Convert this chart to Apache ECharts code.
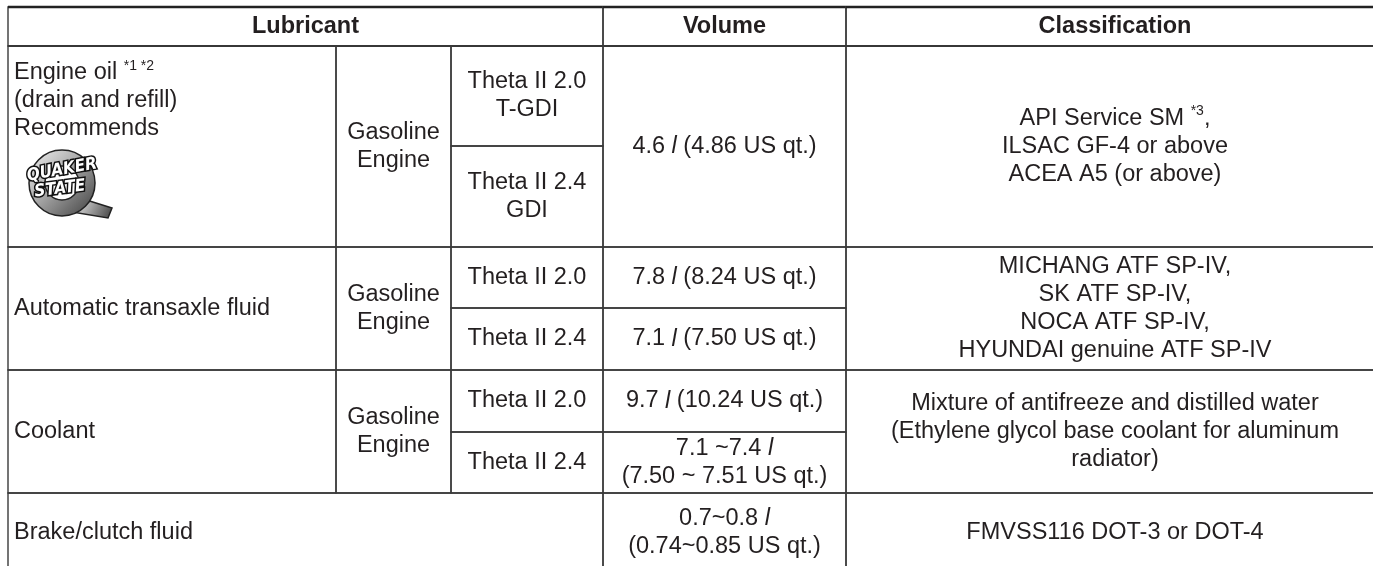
<!DOCTYPE html>
<html>
<head>
<meta charset="utf-8">
<script src="https://cdn.jsdelivr.net/npm/echarts@6/dist/echarts.min.js"></script>
<style>
html,body{margin:0;padding:0;background:#fff;}
#chart{width:1373px;height:566px;}
</style>
</head>
<body>
<div id="chart"></div>
<script>
// ---------- DATA (texts) ----------
const headers = ['Lubricant', 'Volume', 'Classification'];
const lubricants = [
  'Engine oil {sup|*1 *2}\n(drain and refill)\nRecommends',
  'Automatic transaxle fluid',
  'Coolant',
  'Brake/clutch fluid'
];
const engineTypes = ['Gasoline\nEngine', 'Gasoline\nEngine', 'Gasoline\nEngine'];
const engineModels = [
  'Theta II 2.0\nT-GDI', 'Theta II 2.4\nGDI',
  'Theta II 2.0', 'Theta II 2.4',
  'Theta II 2.0', 'Theta II 2.4'
];
const volumes = [
  '4.6 {it|l} (4.86 US qt.)',
  '7.8 {it|l} (8.24 US qt.)',
  '7.1 {it|l} (7.50 US qt.)',
  '9.7 {it|l} (10.24 US qt.)',
  '7.1 ~7.4 {it|l}\n(7.50 ~ 7.51 US qt.)',
  '0.7~0.8 {it|l}\n(0.74~0.85 US qt.)'
];
const classifications = [
  'API Service SM {sup|*3},\nILSAC GF-4 or above\nACEA A5 (or above)',
  'MICHANG ATF SP-IV,\nSK ATF SP-IV,\nNOCA ATF SP-IV,\nHYUNDAI genuine ATF SP-IV',
  'Mixture of antifreeze and distilled water\n(Ethylene glycol base coolant for aluminum\nradiator)',
  'FMVSS116 DOT-3 or DOT-4'
];

// ---------- LAYOUT (table grid in axis units) ----------
const colEdges = [8, 336, 451, 603, 846, 1384];
const rowEdges = [7, 46, 146, 247, 308, 370, 432, 493, 572];

// ---------- STYLE ----------
const FONT = "'Liberation Sans', Arial, Helvetica, sans-serif";
const FS = 23.5;
const LH = 28;
const TXT = '#231f20';
const LINE = '#3a3a3a';

// ---------- CELL TABLE built from the arrays ----------
// [c0, c1, r0, r1] spans by index
const cells = [];
function add(c0, c1, r0, r1, text, opts) {
  cells.push(Object.assign({c0, c1, r0, r1, text, align: 'center', valign: 'middle'}, opts || {}));
}
add(0, 3, 0, 1, headers[0], {bold: true});
add(3, 4, 0, 1, headers[1], {bold: true});
add(4, 5, 0, 1, headers[2], {bold: true});
// engine oil
add(0, 1, 1, 3, lubricants[0], {align: 'left', valign: 'top', logo: true});
add(1, 2, 1, 3, engineTypes[0]);
add(2, 3, 1, 2, engineModels[0]);
add(2, 3, 2, 3, engineModels[1]);
add(3, 4, 1, 3, volumes[0]);
add(4, 5, 1, 3, classifications[0]);
// ATF
add(0, 1, 3, 5, lubricants[1], {align: 'left'});
add(1, 2, 3, 5, engineTypes[1]);
add(2, 3, 3, 4, engineModels[2]);
add(2, 3, 4, 5, engineModels[3]);
add(3, 4, 3, 4, volumes[1]);
add(3, 4, 4, 5, volumes[2]);
add(4, 5, 3, 5, classifications[1]);
// coolant
add(0, 1, 5, 7, lubricants[2], {align: 'left'});
add(1, 2, 5, 7, engineTypes[2]);
add(2, 3, 5, 6, engineModels[4]);
add(2, 3, 6, 7, engineModels[5]);
add(3, 4, 5, 6, volumes[3]);
add(3, 4, 6, 7, volumes[4]);
add(4, 5, 5, 7, classifications[2]);
// brake
add(0, 3, 7, 8, lubricants[3], {align: 'left'});
add(3, 4, 7, 8, volumes[5]);
add(4, 5, 7, 8, classifications[3]);

const seriesData = cells.map((c, i) => [c.c0, c.c1, c.r0, c.r1, i]);

const rich = {
  sup: {fontSize: 14, fontFamily: FONT, fill: TXT, verticalAlign: 'top', lineHeight: LH},
  it: {fontSize: FS, fontFamily: FONT, fontStyle: 'italic', fill: TXT, lineHeight: LH}
};

function logoElements(x, y) {
  const grad = {
    type: 'linear', x: 0, y: 0, x2: 1, y2: 1,
    colorStops: [
      {offset: 0, color: '#f4f4f4'},
      {offset: 0.45, color: '#a8a8a8'},
      {offset: 1, color: '#3c3c3c'}
    ]
  };
  return [
    {type: 'polygon', shape: {points: [[x + 72, y + 152], [x + 104, y + 162], [x + 100, y + 172], [x + 64, y + 166]]},
      style: {fill: grad, stroke: '#222', lineWidth: 1.5}},
    {type: 'ring', shape: {cx: x + 54, cy: y + 137, r: 33, r0: 17},
      style: {fill: grad, stroke: '#222', lineWidth: 1.5}},
    {type: 'text', rotation: 0.18, x: x + 54, y: y + 124,
      style: {text: 'QUAKER', x: 0, y: 0, align: 'center', verticalAlign: 'middle',
        fontFamily: "'DejaVu Sans Condensed', 'Liberation Sans Narrow', sans-serif", fontWeight: 'bold', fontStyle: 'italic',
        fontSize: 17, fill: '#fff', stroke: '#111', lineWidth: 3}},
    {type: 'text', rotation: 0.12, x: x + 52, y: y + 143,
      style: {text: 'STATE', x: 0, y: 0, align: 'center', verticalAlign: 'middle',
        fontFamily: "'DejaVu Sans Condensed', 'Liberation Sans Narrow', sans-serif", fontWeight: 'bold', fontStyle: 'italic',
        fontSize: 17, fill: '#fff', stroke: '#111', lineWidth: 3}}
  ];
}

function renderItem(params, api) {
  const c0 = api.value(0), c1 = api.value(1), r0 = api.value(2), r1 = api.value(3), k = api.value(4);
  const p0 = api.coord([colEdges[c0], rowEdges[r0]]);
  const p1 = api.coord([colEdges[c1], rowEdges[r1]]);
  const x = p0[0], y = p0[1], w = p1[0] - p0[0], h = p1[1] - p0[1];
  const cell = cells[k];
  const children = [{
    type: 'rect', shape: {x: x, y: y, width: w, height: h},
    style: {fill: 'none', stroke: LINE, lineWidth: 1.4}
  }];
  if (r0 === 0) {
    children.push({type: 'line', shape: {x1: x, y1: y, x2: x + w, y2: y}, style: {stroke: '#222', lineWidth: 2.4}});
  }
  if (r1 === 1) {
    children.push({type: 'line', shape: {x1: x, y1: y + h, x2: x + w, y2: y + h}, style: {stroke: '#333', lineWidth: 2.2}});
  }
  const tx = cell.align === 'left' ? x + 6 : x + w / 2;
  const ty = cell.valign === 'top' ? y + 13 : y + h / 2;
  children.push({
    type: 'text',
    style: {
      text: cell.text, x: tx, y: ty,
      align: cell.align === 'left' ? 'left' : 'center',
      verticalAlign: cell.valign === 'top' ? 'top' : 'middle',
      fontFamily: FONT, fontSize: FS, fontWeight: cell.bold ? 'bold' : 'normal',
      fill: TXT, lineHeight: LH, rich: rich
    }
  });
  if (cell.logo) {
    logoElements(x, y).forEach(e => children.push(e));
  }
  return {type: 'group', children: children};
}

const chart = echarts.init(document.getElementById('chart'), null, {renderer: 'canvas'});
chart.setOption({
  animation: false,
  backgroundColor: '#fff',
  grid: {left: 0, right: 0, top: 0, bottom: 0},
  xAxis: {type: 'value', min: 0, max: 1373, show: false},
  yAxis: {type: 'value', min: 0, max: 566, inverse: true, show: false},
  series: [{
    type: 'custom',
    silent: true,
    clip: false,
    renderItem: renderItem,
    data: seriesData
  }]
});
</script>
</body>
</html>
